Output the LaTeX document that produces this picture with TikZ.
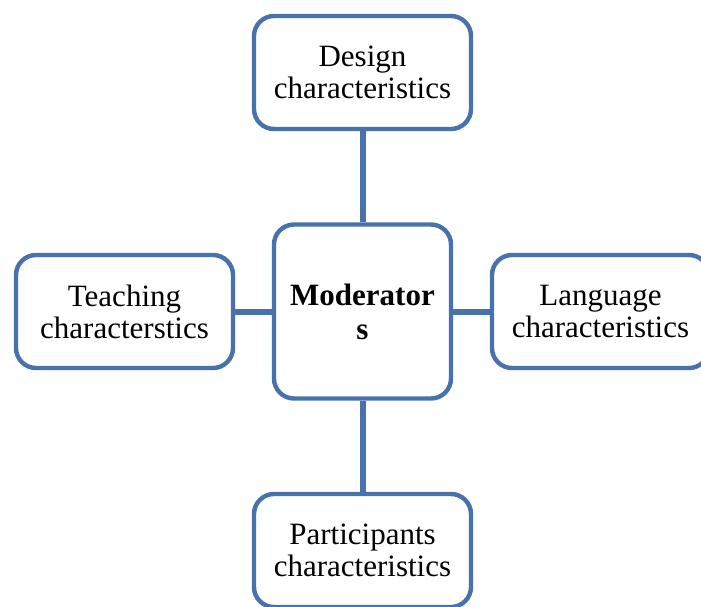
\documentclass[tikz,border=0pt]{standalone}
\usepackage{fontspec}
\setmainfont{Liberation Serif}
\definecolor{modblue}{RGB}{71,114,172}
\begin{document}
\begin{tikzpicture}[x=0.5pt,y=-0.5pt,charbox/.style={draw=modblue,line width=2.2pt,fill=white,rounded corners=10pt,minimum width=108.5pt,minimum height=56.5pt,align=center,inner sep=0pt,font=\fontsize{15.5}{16}\selectfont},modbox/.style={charbox,minimum width=88.5pt,minimum height=87pt,font=\fontsize{15.5}{17}\selectfont\bfseries},link/.style={modblue,line width=3pt}]
\def\midX{362.5}
\def\midY{311.5}
\def\sideDX{238}
\def\sideDY{239}

\useasboundingbox (0,0) rectangle (701,606);

\node[modbox] (moderators) at (\midX,\midY) {Moderator\\s};
\node[charbox] (design) at (\midX,\midY-\sideDY) {Design\\characteristics};
\node[charbox] (participants) at (\midX,\midY+\sideDY) {Participants\\characteristics};
\node[charbox] (teaching) at (\midX-\sideDX,\midY) {Teaching\\characterstics};
\node[charbox] (language) at (\midX+\sideDX,\midY) {Language\\characteristics};

\draw[link] (moderators) -- (design);
\draw[link] (moderators) -- (participants);
\draw[link] (moderators) -- (teaching);
\draw[link] (moderators) -- (language);
\end{tikzpicture}
\end{document}
